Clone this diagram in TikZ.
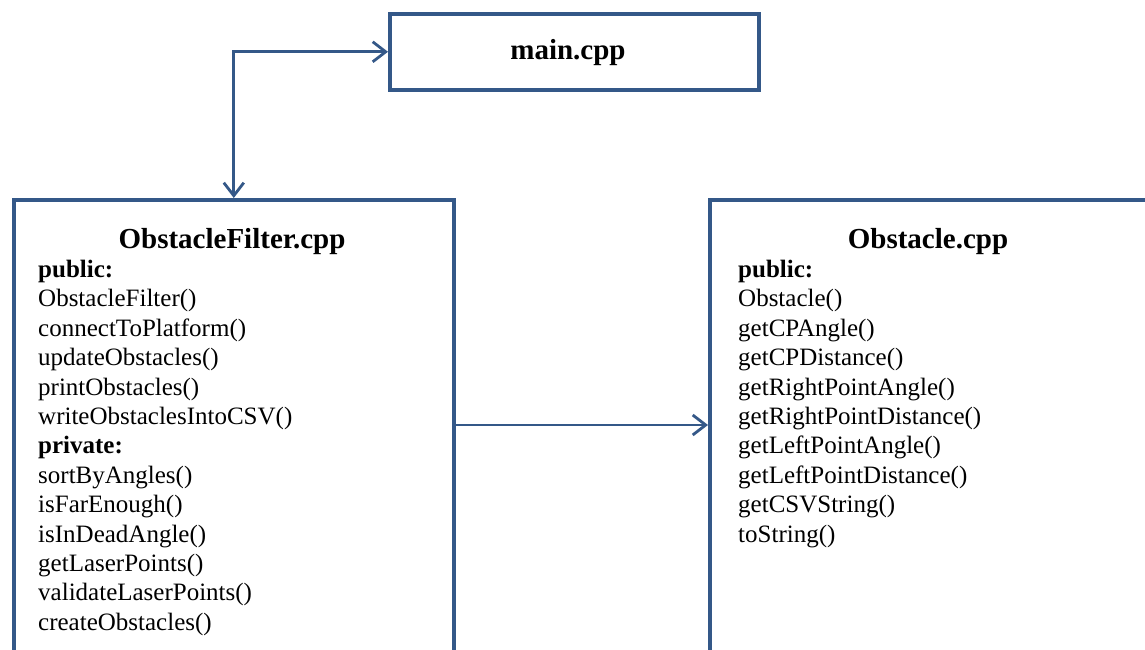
\documentclass[tikz,border=0pt]{standalone}
\usepackage{fontspec}
\setmainfont{Liberation Serif}
\usetikzlibrary{arrows.meta}
\definecolor{boxblue}{RGB}{52,88,136}
\tikzset{
  umlbox/.style={draw=boxblue, line width=3.6pt, rectangle, inner sep=0pt, anchor=north west},
  conn/.style={draw=boxblue, line width=2.8pt},
  barbtip/.tip={Straight Barb[length=13pt,width=20pt,line width=2.8pt]},
  titletext/.style={font=\fontsize{29}{33}\selectfont\bfseries, inner sep=0pt, anchor=base},
  itemtext/.style={font=\fontsize{25}{29}\selectfont, inner sep=0pt, anchor=base west},
}
\begin{document}
\begin{tikzpicture}[x=1pt,y=-1pt]
\useasboundingbox (0,0) rectangle (1145,650);
\clip (0,0) rectangle (1145,650);
\fill[white] (0,0) rectangle (1145,650);
% boxes
\node[umlbox, minimum width=369pt, minimum height=76pt] (main) at (388,12) {};
\node[umlbox, minimum width=440pt, minimum height=500pt] (of) at (12,198) {};
\node[umlbox, minimum width=500pt, minimum height=500pt] (ob) at (708,198) {};
% titles
\node[titletext] (maint) at (568,60) {main.cpp};
\node[titletext] (oft) at (232,248) {ObstacleFilter.cpp};
\node[titletext] (obt) at (928,248) {Obstacle.cpp};
% ObstacleFilter members
\foreach \t [count=\i] in {\textbf{public:}, ObstacleFilter(), connectToPlatform(), updateObstacles(), printObstacles(), writeObstaclesIntoCSV(), \textbf{private:}, sortByAngles(), isFarEnough(), isInDeadAngle(), getLaserPoints(), validateLaserPoints(), createObstacles()}
  \node[itemtext] (ofm\i) at (38, {248+29.4*\i}) {\t};
% Obstacle members
\foreach \t [count=\i] in {\textbf{public:}, Obstacle(), getCPAngle(), getCPDistance(), getRightPointAngle(), getRightPointDistance(), getLeftPointAngle(), getLeftPointDistance(), getCSVString(), toString()}
  \node[itemtext] (obm\i) at (738, {248+29.4*\i}) {\t};
% connectors
\coordinate (ylevel) at (0,425);
\draw[conn, barbtip-barbtip] (of.north) |- (main.west);
\draw[conn, -barbtip] (of.east |- ylevel) -- (ob.west |- ylevel);
\end{tikzpicture}
\end{document}
